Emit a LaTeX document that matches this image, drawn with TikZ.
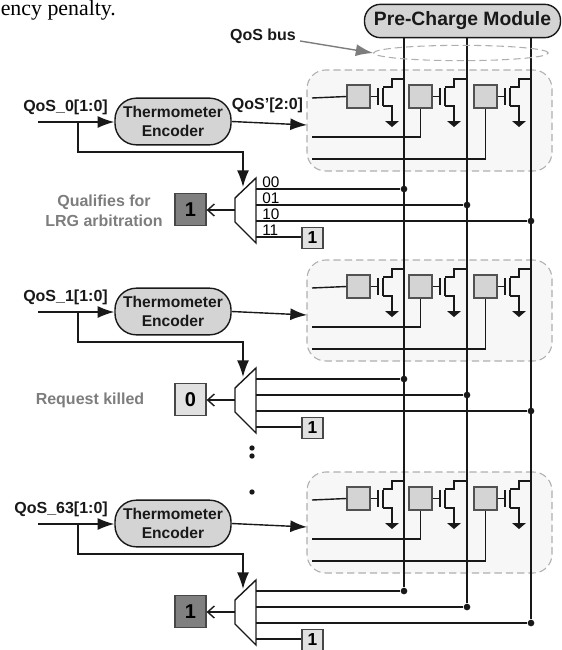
\documentclass[tikz,border=0pt]{standalone}
\usepackage{fontspec}
\setmainfont{Liberation Sans}
\newfontfamily\bodyserif{Liberation Serif}
\usetikzlibrary{arrows.meta, positioning, shapes.geometric}
\definecolor{wirecol}{RGB}{25,25,25}
\definecolor{encfill}{RGB}{212,212,212}
\definecolor{cellfill}{RGB}{247,247,247}
\definecolor{dashcol}{RGB}{175,175,175}
\definecolor{darkfill}{RGB}{128,128,128}
\definecolor{labelgray}{RGB}{125,125,125}

\begin{document}
\begin{tikzpicture}[
		x=0.75pt, y=-0.75pt,
		wire/.style={draw=wirecol, line width=1.05pt},
		arrow/.style={wire, -{Latex[length=12.5pt, width=9pt]}},
		barb/.style={wire, -{Straight Barb[length=5pt, width=9pt]}},
		encoder/.style={draw=wirecol, fill=encfill, line width=1.05pt, rounded corners=16pt,
			minimum width=87pt, minimum height=35pt, inner sep=0pt, align=center,
			font=\bfseries\fontsize{11.7}{14.4}\selectfont, text=wirecol},
		dashline/.style={draw=dashcol, dash pattern=on 5.5pt off 3pt, line width=0.8pt},
		cellgroup/.style={dashline, fill=cellfill, rounded corners=14pt,
			minimum width=183.75pt, minimum height=75.75pt},
		precell/.style={draw=wirecol!75, fill=encfill, line width=1.05pt, minimum width=17pt, minimum height=17pt, inner sep=0pt},
		valbox/.style={draw=wirecol!80, line width=1.2pt, minimum width=23pt, minimum height=24pt, inner sep=0pt,
			font=\bfseries\fontsize{15}{15}\selectfont},
		onebox/.style={draw=wirecol!80, fill=encfill!70, line width=1.05pt, minimum width=15.5pt, minimum height=15.5pt, inner sep=0pt,
			font=\bfseries\fontsize{13}{13}\selectfont},
		txt/.style={font=\bfseries\fontsize{12}{15}\selectfont, text=wirecol, inner sep=0pt, align=center},
		graytxt/.style={txt, text=labelgray},
		junction/.style={circle, fill=wirecol, minimum size=5pt, inner sep=0pt}
	]
		\useasboundingbox (0,0) rectangle (561,650);
		\node[anchor=base west, inner sep=0pt, font=\bodyserif\fontsize{16.4}{16.4}\selectfont] (intro) at (0.5,15.5) {ency penalty.};
		% one block per requester
		\foreach \k/\o/\lab/\val/\valfill in {0/0/{QoS\_0[1:0]}/1/darkfill, 1/190/{QoS\_1[1:0]}/0/encfill!70, 2/402/{QoS\_63[1:0]}/1/darkfill}{
			\node[cellgroup] (cells\k) at (429.5,120.5+\o) {};
			\node[encoder] (enc\k) at (173,121.5+\o) {Thermometer\\Encoder};
			\node[txt, anchor=east] (qos\k) at (108,107+\o) {\lab};
			\coordinate (in\k) at (38,122+\o);
			\coordinate (split\k) at (78,122+\o);
			\coordinate (cellin\k) at (307,125+\o);
			\draw[arrow] (in\k) -- (enc\k.west |- in\k);
			\draw[arrow] (enc\k.east) -- (cellin\k);
			% mux
			\coordinate (muxa\k) at (256,178+\o);
			\coordinate (muxb\k) at (235,198+\o);
			\coordinate (muxc\k) at (235,222+\o);
			\coordinate (muxd\k) at (256,243+\o);
			\coordinate (muxout\k) at (235,210+\o);
			\coordinate (muxsel\k) at (243,187+\o);
			\draw[wire, fill=white] (muxa\k) -- (muxb\k) -- (muxc\k) -- (muxd\k) -- cycle;
			\draw[arrow] (split\k) |- (243,152+\o) -- (muxsel\k);
			\node[valbox, fill=\valfill] (val\k) at (190.5,209.5+\o) {\val};
			\draw[barb] (muxout\k) -- (val\k.east |- muxout\k);
			\node[onebox] (one\k) at (312.5,238+\o) {1};
			\draw[wire] (256,237+\o) -- (one\k.west |- 0,237+\o);
			% select lines to the bus
			\foreach \b/\x/\y in {a/404/189, b/467/205, c/531/221}{
				\node[junction] (dot\k\b) at (\x,\y+\o) {};
				\draw[wire] (256,\y+\o) -- (dot\k\b);
			}
			% precharge cells
			\foreach \c/\x/\r in {a/358.5/404, b/420.5/467, c/485.5/531}{
				\node[precell] (pc\k\c) at (\x,96.5+\o) {};
				\draw[wire] (pc\k\c.east) -- (\x+19.5,96.5+\o);
				\draw[wire] (\x+19.5,88+\o) -- (\x+19.5,105+\o);
				\draw[wire] (\x+24.5,88+\o) -- (\x+24.5,106+\o);
				\draw[wire] (\x+24.5,87+\o) -| (\x+33.5,79+\o) -- (\r,79+\o);
				\draw[wire] (\x+24.5,106+\o) -| (\x+33.5,122+\o);
				\fill[wirecol] (\x+26.5,121+\o) -- (\x+40.5,121+\o) -- (\x+33.5,127+\o) -- cycle;
			}
			\draw[wire] (312,98+\o) -- (pc\k a.west);
			\draw[wire] (312,137+\o) -| (pc\k b.south);
			\draw[wire] (312,159+\o) -| (pc\k c.south);
		}
		% labels on the first mux
		\foreach \t/\y in {00/182, 01/198, 10/214, 11/230}
			\node[txt, font=\fontsize{11.5}{14}\selectfont, text=black, anchor=west] (sel\t) at (262,\y) {\t};
		\node[graytxt] (qualifies) at (104,211) {Qualifies for\\LRG arbitration};
		\node[graytxt] (killed) at (90,400) {Request killed};
		\node[txt] (qosprime) at (267.5,105) {QoS'[2:0]};
		% dots between blocks
		\foreach \y in {448,456,492}
			\node[circle, fill=wirecol, minimum size=4pt, inner sep=0pt] (gap\y) at (252,\y) {};
		% bus
		\node[encoder, rounded corners=12pt, minimum width=147pt, minimum height=25pt, font=\bfseries\fontsize{14.5}{14.5}\selectfont] (pre) at (462.5,21) {Pre-Charge Module};
		\foreach \b in {a,b,c}
			\draw[wire] (pre.south -| dot2\b) -- (dot2\b);
		\node[ellipse, dashline, minimum width=131pt, minimum height=11.5pt, inner sep=0pt] (ring) at (461,53) {};
		\node[txt] (qosbus) at (263,36) {QoS bus};
		\draw[draw=labelgray, line width=1.05pt, -{Latex[length=13pt, width=9pt]}] ([shift={(4,5)}]qosbus.east) -- (ring.west);
	\end{tikzpicture}
\end{document}
